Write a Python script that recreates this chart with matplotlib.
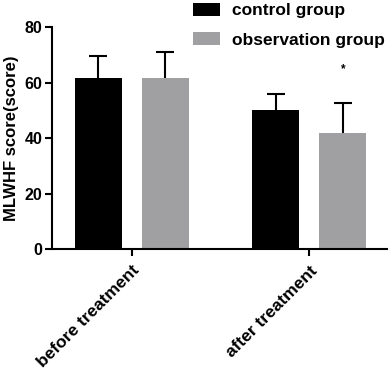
import numpy as np
import matplotlib.pyplot as plt

plt.rcParams['font.family'] = ['Liberation Sans', 'DejaVu Sans']
plt.rcParams['font.weight'] = 'bold'
plt.rcParams['axes.labelweight'] = 'bold'

categories = ['before treatment', 'after treatment']
groups = ['control group', 'observation group']
control_mean = [61.6, 50.1]
control_sd = [7.9, 5.8]
observation_mean = [61.6, 41.8]
observation_sd = [9.4, 10.8]
star_pos = (1, 64.9)

colors = ['#000000', '#a0a0a2']

fig = plt.figure(figsize=(3.92, 3.70), dpi=100)
ax = fig.add_axes([0.1327, 0.327, 0.8543, 0.600])

x = np.arange(len(categories))
w = 0.265
off = 0.189
ekw = dict(ecolor='black', elinewidth=1.5, capsize=6.5, capthick=1.5)
b1 = ax.bar(x - off, control_mean, w, color=colors[0], label=groups[0],
            yerr=[np.zeros(2), control_sd], error_kw=ekw, zorder=2)
b2 = ax.bar(x + off, observation_mean, w, color=colors[1], label=groups[1],
            yerr=[np.zeros(2), observation_sd], error_kw=ekw, zorder=2)
# only upper caps
for b in (b1, b2):
    b.errorbar.lines[1][0].set_visible(False)

ax.text(star_pos[0] + off, star_pos[1], '*', ha='center', va='center', fontsize=8.5)

ax.set_xlim(-0.45, 1.437)
ax.set_ylim(0, 80)
ax.set_yticks([0, 20, 40, 60, 80])
ax.set_xticks(x)
ax.set_xticklabels(categories, rotation=45, ha='right', rotation_mode='anchor', fontsize=12.5)
ax.tick_params(axis='y', labelsize=11.5, width=1.5, length=5, pad=2)
ax.tick_params(axis='x', width=1.5, length=5, pad=5)
ax.set_ylabel('MLWHF score(score)', fontsize=12, labelpad=4)

for s in ['top', 'right']:
    ax.spines[s].set_visible(False)
for s in ['left', 'bottom']:
    ax.spines[s].set_linewidth(1.5)

fig.legend(loc='upper left', bbox_to_anchor=(186 / 392, 1.012), frameon=False,
           fontsize=12.5, handlelength=1.55, handleheight=0.8,
           labelspacing=0.8, handletextpad=0.7, borderaxespad=0)

fig.savefig('out.png', dpi=100)
